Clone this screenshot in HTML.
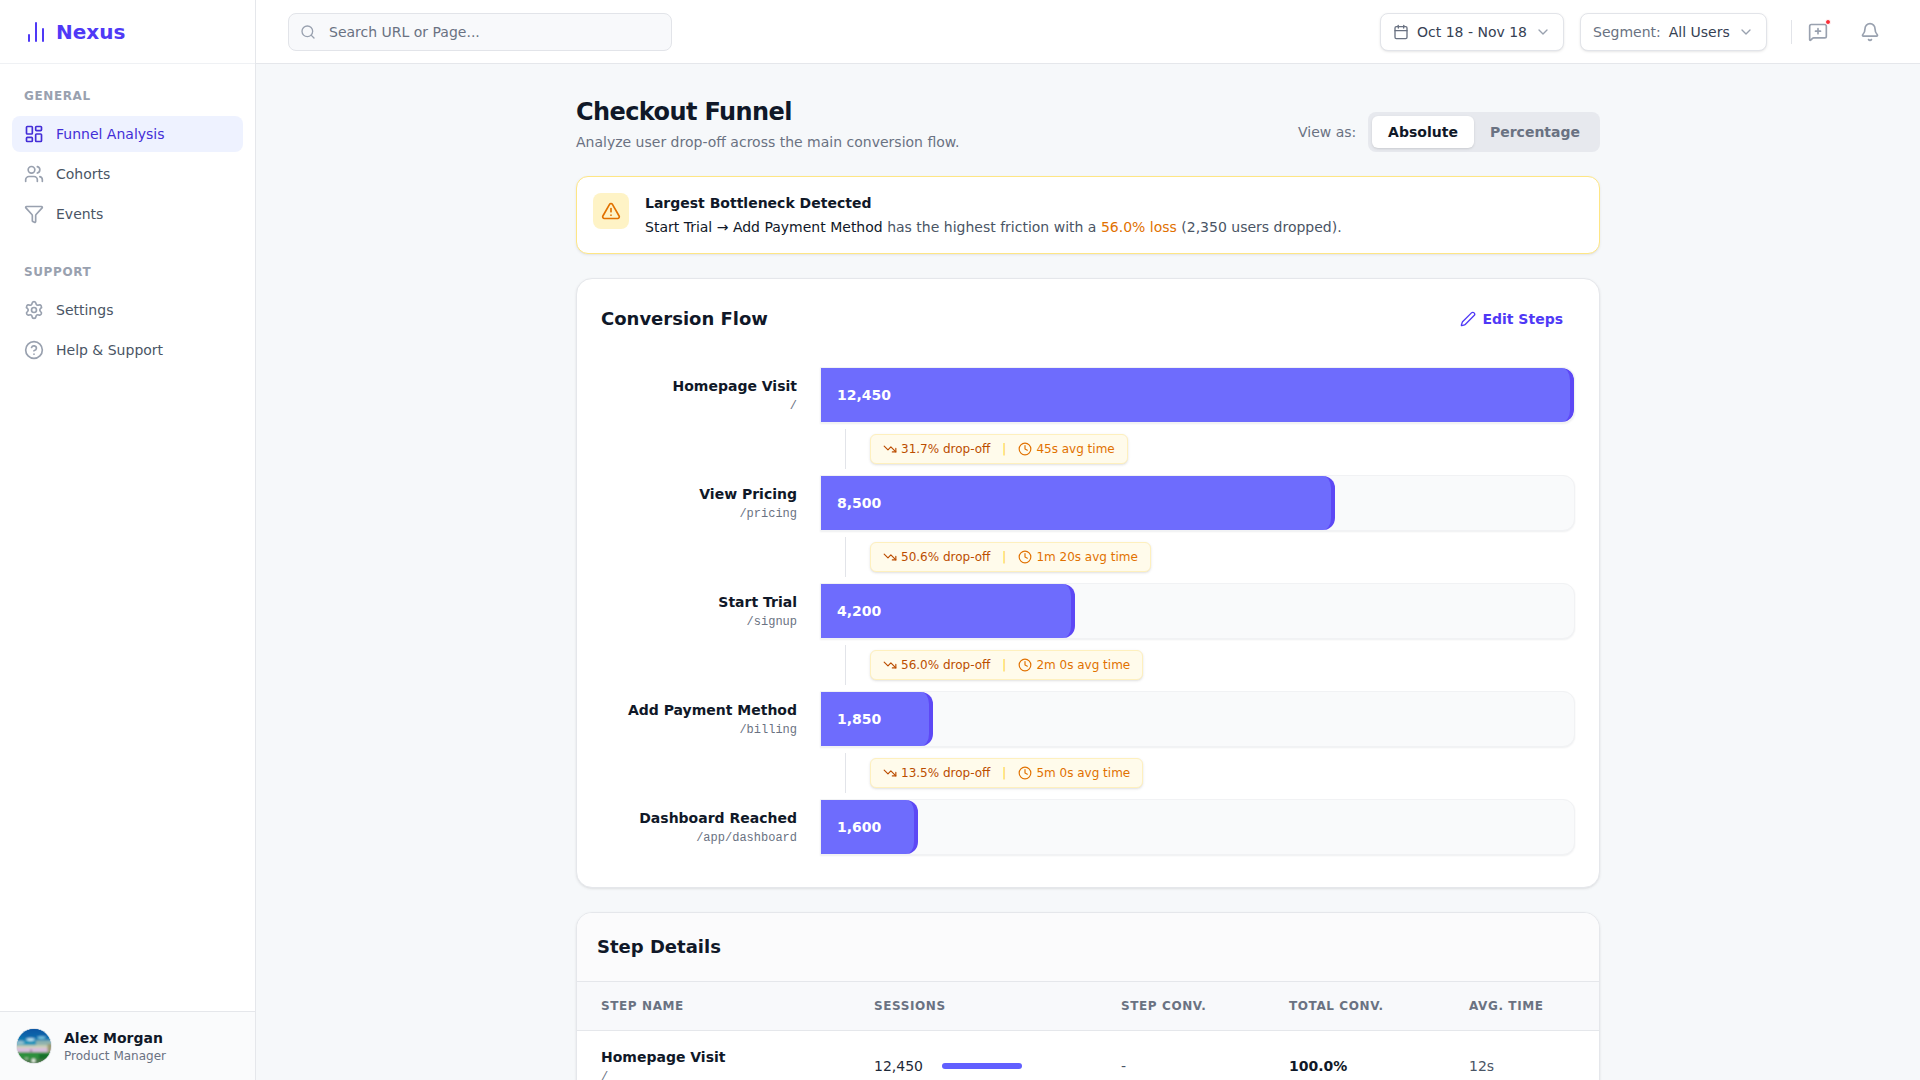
<!DOCTYPE html>
<html lang="en">
<head>
<meta charset="utf-8">
<title>Nexus - Checkout Funnel</title>
<style>
*{box-sizing:border-box;margin:0;padding:0}
html,body{width:1920px;height:1080px;overflow:hidden}
body{font-family:"DejaVu Sans","Liberation Sans",sans-serif;font-size:14px;line-height:20px;color:#111827;background:#f6f8fa;-webkit-font-smoothing:antialiased}
svg{display:block;fill:none;stroke:currentColor;stroke-width:2;stroke-linecap:round;stroke-linejoin:round}
.mono{font-family:"Liberation Mono","DejaVu Sans Mono",monospace}

/* sidebar */
.sidebar{position:absolute;left:0;top:0;width:256px;height:1080px;background:#fff;border-right:1px solid #e5e7eb}
.logo{height:64px;border-bottom:1px solid #eff1f4;display:flex;align-items:center;padding-left:24px;color:#4f39f6}
.logo svg{width:24px;height:24px}
.logo span{font-size:20px;font-weight:700;margin-left:8px;line-height:28px;position:relative;top:0px}
.nav{padding:0 12px}
.nav h4{font-size:12px;line-height:16px;font-weight:700;letter-spacing:.6px;color:#99a1af;text-transform:uppercase;padding-left:12px}
.nav a{display:flex;align-items:center;height:36px;border-radius:8px;padding-left:12px;margin-bottom:4px;color:#4a5565;text-decoration:none}
.nav a svg{width:20px;height:20px;color:#99a1af;margin-right:12px}
.nav a.active{background:#eef2ff;color:#432dd7}
.nav a.active svg{color:#432dd7}
.user{position:absolute;left:0;bottom:0;width:255px;height:69px;border-top:1px solid #e5e7eb;background:#fafbfc;display:flex;align-items:center;padding-left:16px}
.avatar{width:36px;height:36px;border-radius:50%;border:1px solid #e5e7eb;overflow:hidden;position:relative;background:linear-gradient(180deg,#0b62a8 0%,#1680b8 30%,#7fb5c8 42%,#c9b7c0 52%,#d8b6d0 60%,#7fae7a 68%,#2f8f3a 78%,#4a7f4a 90%,#9bb79b 100%)}
.user .info{margin-left:12px}
.user .name{font-weight:700;font-size:14px;line-height:20px;color:#101828}
.user .role{font-size:12px;line-height:16px;color:#6a7282}

/* topbar */
.topbar{position:absolute;left:256px;top:0;width:1664px;height:64px;background:#fff;border-bottom:1px solid #e5e7eb}
.search{position:absolute;left:32px;top:13px;width:384px;height:38px;border:1px solid #e2e4e9;border-radius:8px;background:#f8f9fb;display:flex;align-items:center;padding-left:11px;color:#6a7282;font-size:14px}
.search svg{width:16px;height:16px;color:#99a1af;margin-right:13px}
.tbtn{position:absolute;top:13px;height:38px;border:1px solid #e2e4e9;border-radius:8px;background:#fff;box-shadow:0 1px 3px rgba(0,0,0,.08),0 1px 2px -1px rgba(0,0,0,.08);display:flex;align-items:center;font-size:14px;color:#364153;white-space:nowrap}
.tbtn svg{width:16px;height:16px;color:#6a7282}
.tdiv{position:absolute;left:1535px;top:20px;width:1px;height:24px;background:#e2e4e9}
.ticon{position:absolute;top:22px;width:20px;height:20px;color:#99a1af}
.ticon svg{width:20px;height:20px}
.dot{position:absolute;width:6px;height:6px;border-radius:50%;background:#fb2c36;border:1px solid #fff}

/* main */
.main{position:absolute;left:576px;top:64px;width:1024px}
.ph{position:absolute;left:0;top:0;width:1024px;height:112px}
.ph h1{position:absolute;left:0;top:32px;font-size:24px;line-height:32px;font-weight:700;color:#101828;letter-spacing:-.6px}
.ph p{position:absolute;left:0;top:68px;font-size:14px;line-height:20px;color:#6a7282}
.viewas{position:absolute;left:722px;top:58px;font-size:14px;line-height:20px;color:#6a7282}
.toggle{position:absolute;left:792px;top:48px;width:232px;height:40px;border-radius:8px;background:#e7e9ee;padding:4px;display:flex;font-weight:700;font-size:14px}
.toggle div{height:32px;line-height:32px;text-align:center;border-radius:6px;color:#6a7282}
.toggle .on{width:102px;background:#fff;color:#101828;box-shadow:0 1px 3px rgba(0,0,0,.1),0 1px 2px -1px rgba(0,0,0,.1)}
.toggle .off{width:122px}
.alert{position:absolute;left:0;top:112px;width:1024px;height:78px;background:#fff;border:1px solid #fee685;border-radius:12px;box-shadow:0 1px 3px rgba(0,0,0,.07),0 1px 2px -1px rgba(0,0,0,.07)}
.alert .ib{position:absolute;left:16px;top:16px;width:36px;height:36px;border-radius:8px;background:#fef3c6;color:#e17100;display:flex;align-items:center;justify-content:center}
.alert .ib svg{width:20px;height:20px}
.alert h3{position:absolute;left:68px;top:16px;font-size:14px;line-height:20px;font-weight:700;color:#101828}
.alert p{position:absolute;left:68px;top:40px;font-size:14px;line-height:20px;color:#4a5565;white-space:nowrap}
.alert p b{font-weight:400;color:#101828}
.alert p i{font-style:normal;color:#e17100}
.card{position:absolute;left:0;width:1024px;background:#fff;border:1px solid #e5e7eb;border-radius:16px;box-shadow:0 1px 3px rgba(0,0,0,.08),0 1px 2px -1px rgba(0,0,0,.08)}
.c1{top:214px;height:610px}
.c1 h2{position:absolute;left:24px;top:26px;font-size:18px;line-height:28px;font-weight:700;color:#101828}
.edit{position:absolute;right:36px;top:30px;display:flex;align-items:center;font-size:14px;line-height:20px;font-weight:700;color:#4f39f6}
.edit svg{width:16px;height:16px;margin-right:6px}
.row{position:absolute;left:24px;width:974px;height:54px}
.row .lab{position:absolute;left:0;top:0;width:196px;text-align:right}
.row .lab .n{font-weight:700;font-size:14px;line-height:20px;color:#101828;margin-top:8px;white-space:nowrap}
.row .lab .p{font-size:12px;line-height:16px;color:#6a7282;margin-top:2px}
.track{position:absolute;left:219px;top:-1px;width:755px;height:56px;background:#f9fafb;border:1px solid #f1f2f4;border-radius:0 12px 12px 0;box-shadow:0 1px 2px rgba(16,24,40,.07);overflow:hidden}
.fill{height:54px;background:#6e6cfd;border-right:4px solid #5d48f5;border-radius:0 12px 12px 0;color:#fff;font-weight:700;font-size:14px;line-height:54px;padding-left:16px}
.conn{position:absolute;left:268px;width:1px;height:40px;background:#e2e4e9}
.badge{position:absolute;left:293px;height:30px;border:1px solid #fef0be;background:#fffbeb;border-radius:6px;box-shadow:0 1px 3px rgba(0,0,0,.1),0 1px 2px -1px rgba(0,0,0,.1);display:flex;align-items:center;padding:0 12px;font-size:12px;line-height:16px;white-space:nowrap}
.badge svg{width:14px;height:14px}
.badge .d{color:#bb4d00;display:flex;align-items:center}
.badge .d svg{margin-right:4px}
.badge .s{color:#ffd230;margin:0 12px}
.badge .t{color:#e17100;display:flex;align-items:center}
.badge .t svg{margin-right:4px}
.c2{top:848px;height:400px;overflow:hidden}
.c2 .hd{height:69px;background:#fbfbfc;border-bottom:1px solid #e5e7eb;padding:20px 20px}
.c2 .hd h2{font-size:18px;line-height:28px;font-weight:700;color:#101828}
.c2 .th{height:49px;background:#f8f9fb;border-bottom:1px solid #e5e7eb;position:relative;font-size:12px;line-height:16px;font-weight:700;letter-spacing:.6px;color:#6a7282;text-transform:uppercase}
.c2 .th span{position:absolute;top:16px}
.c2 .tr{position:relative;height:70px}
.c2 .tr>*{position:absolute}
</style>
</head>
<body>

<aside class="sidebar">
  <div class="logo">
    <svg viewBox="0 0 24 24"><path d="M5 21v-6"/><path d="M12 21V3"/><path d="M19 21V9"/></svg>
    <span>Nexus</span>
  </div>
  <nav class="nav">
    <h4 style="margin-top:24px;margin-bottom:12px">General</h4>
    <a class="active"><svg viewBox="0 0 24 24"><rect width="7" height="9" x="3" y="3" rx="1"/><rect width="7" height="5" x="14" y="3" rx="1"/><rect width="7" height="9" x="14" y="12" rx="1"/><rect width="7" height="5" x="3" y="16" rx="1"/></svg>Funnel Analysis</a>
    <a><svg viewBox="0 0 24 24"><path d="M16 21v-2a4 4 0 0 0-4-4H6a4 4 0 0 0-4 4v2"/><circle cx="9" cy="7" r="4"/><path d="M22 21v-2a4 4 0 0 0-3-3.87"/><path d="M16 3.13a4 4 0 0 1 0 7.75"/></svg>Cohorts</a>
    <a><svg viewBox="0 0 24 24"><path d="M10 20a1 1 0 0 0 .553.895l2 1A1 1 0 0 0 14 21v-7a2 2 0 0 1 .517-1.341L21.74 4.67A1 1 0 0 0 21 3H3a1 1 0 0 0-.742 1.67l7.225 7.989A2 2 0 0 1 10 14z"/></svg>Events</a>
    <h4 style="margin-top:32px;margin-bottom:12px">Support</h4>
    <a><svg viewBox="0 0 24 24"><path d="M9.671 4.136a2.34 2.34 0 0 1 4.659 0 2.34 2.34 0 0 0 3.319 1.915 2.34 2.34 0 0 1 2.33 4.033 2.34 2.34 0 0 0 0 3.831 2.34 2.34 0 0 1-2.33 4.033 2.34 2.34 0 0 0-3.319 1.915 2.34 2.34 0 0 1-4.659 0 2.34 2.34 0 0 0-3.32-1.915 2.34 2.34 0 0 1-2.33-4.033 2.34 2.34 0 0 0 0-3.831A2.34 2.34 0 0 1 6.35 6.051a2.34 2.34 0 0 0 3.319-1.915"/><circle cx="12" cy="12" r="3"/></svg>Settings</a>
    <a><svg viewBox="0 0 24 24"><circle cx="12" cy="12" r="10"/><path d="M9.09 9a3 3 0 0 1 5.83 1c0 2-3 3-3 3"/><path d="M12 17h.01"/></svg>Help &amp; Support</a>
  </nav>
  <div class="user">
    <div class="avatar"><svg viewBox="0 0 34 34" width="34" height="34" style="stroke:none;position:absolute;left:0;top:0"><defs><filter id="avb" x="-20%" y="-20%" width="140%" height="140%"><feGaussianBlur stdDeviation="1.1"/></filter><linearGradient id="avs" x1="0" y1="0" x2="0" y2="1"><stop offset="0" stop-color="#0a50a0"/><stop offset="0.45" stop-color="#0b66ab"/><stop offset="0.8" stop-color="#1b95b9"/></linearGradient></defs><g filter="url(#avb)"><rect x="-2" y="-2" width="38" height="20" fill="url(#avs)"/><ellipse cx="13.5" cy="10.6" rx="4.2" ry="1.4" fill="#c9ecf6"/><ellipse cx="24.5" cy="8.6" rx="4" ry="1.1" fill="#8fd8ea"/><rect x="19" y="11.4" width="17" height="6" fill="#8fb2ae"/><ellipse cx="3" cy="13.6" rx="4.5" ry="1.6" fill="#9fc6d0"/><rect x="-2" y="16.2" width="38" height="3" fill="#cdd3b6"/><rect x="-2" y="18.8" width="38" height="4.6" fill="#d9bedd"/><ellipse cx="14" cy="21.6" rx="1" ry="0.9" fill="#6b3f6b"/><rect x="30.5" y="15" width="5" height="8" fill="#9a9a70"/><rect x="-2" y="23.2" width="38" height="8" fill="#2f8f3e"/><rect x="22" y="25" width="14" height="6" fill="#16702c"/><rect x="-2" y="30.4" width="38" height="6" fill="#4b744b"/><ellipse cx="16.5" cy="31.6" rx="2" ry="2.2" fill="#e9f3e6"/><ellipse cx="9.5" cy="29.5" rx="2" ry="1" fill="#a9c7a4"/></g></svg></div>
    <div class="info"><div class="name">Alex Morgan</div><div class="role">Product Manager</div></div>
  </div>
</aside>

<header class="topbar">
  <div class="search"><svg viewBox="0 0 24 24"><circle cx="11" cy="11" r="8"/><path d="m21 21-4.3-4.3"/></svg>Search URL or Page...</div>
  <div class="tbtn" style="left:1124px;width:184px;padding-left:12px">
    <svg viewBox="0 0 24 24"><path d="M8 2v4"/><path d="M16 2v4"/><rect width="18" height="18" x="3" y="4" rx="2"/><path d="M3 10h18"/></svg>
    <span style="margin-left:8px">Oct 18 - Nov 18</span>
    <svg viewBox="0 0 24 24" style="margin-left:8px;color:#99a1af"><path d="m6 9 6 6 6-6"/></svg>
  </div>
  <div class="tbtn" style="left:1324px;width:187px;padding-left:12px">
    <span style="color:#6a7282">Segment:</span>
    <span style="margin-left:8px">All Users</span>
    <svg viewBox="0 0 24 24" style="margin-left:8px;color:#99a1af"><path d="m6 9 6 6 6-6"/></svg>
  </div>
  <div class="tdiv"></div>
  <div class="ticon" style="left:1552px"><svg viewBox="0 0 24 24"><path d="M22 17a2 2 0 0 1-2 2H6.828a2 2 0 0 0-1.414.586l-2.202 2.202A.71.71 0 0 1 2 21.286V5a2 2 0 0 1 2-2h16a2 2 0 0 1 2 2z"/><path d="M12 8v6"/><path d="M9 11h6"/></svg></div>
  <div class="dot" style="left:1569px;top:19px"></div>
  <div class="ticon" style="left:1604px"><svg viewBox="0 0 24 24"><path d="M10.268 21a2 2 0 0 0 3.464 0"/><path d="M3.262 15.326A1 1 0 0 0 4 17h16a1 1 0 0 0 .74-1.673C19.41 13.956 18 12.499 18 8A6 6 0 0 0 6 8c0 4.499-1.411 5.956-2.738 7.326"/></svg></div>
</header>

<main class="main">

  <div class="ph">
    <h1>Checkout Funnel</h1>
    <p>Analyze user drop-off across the main conversion flow.</p>
    <div class="viewas">View as:</div>
    <div class="toggle"><div class="on">Absolute</div><div class="off">Percentage</div></div>
  </div>
  <div class="alert">
    <div class="ib"><svg viewBox="0 0 24 24"><path d="m21.73 18-8-14a2 2 0 0 0-3.48 0l-8 14A2 2 0 0 0 4 21h16a2 2 0 0 0 1.73-3"/><path d="M12 9v4"/><path d="M12 17h.01"/></svg></div>
    <h3>Largest Bottleneck Detected</h3>
    <p><b>Start Trial &rarr; Add Payment Method</b> has the highest friction with a <i>56.0% loss</i> (2,350 users dropped).</p>
  </div>
  <section class="card c1">
    <h2>Conversion Flow</h2>
    <div class="edit"><svg viewBox="0 0 24 24"><path d="M21.174 6.812a1 1 0 0 0-3.986-3.987L3.842 16.174a2 2 0 0 0-.5.83l-1.321 4.352a.5.5 0 0 0 .623.622l4.353-1.32a2 2 0 0 0 .83-.497z"/></svg>Edit Steps</div>
    <div class="row" style="top:89px"><div class="lab"><div class="n">Homepage Visit</div><div class="p mono">/</div></div><div class="track"><div class="fill" style="width:753.0px">12,450</div></div></div>
    <div class="conn" style="top:150px"></div>
    <div class="badge" style="top:155px"><span class="d"><svg viewBox="0 0 24 24"><path d="M16 17h6v-6"/><path d="m22 17-8.500-8.500-5 5L2 7"/></svg>31.7% drop-off</span><span class="s">|</span><span class="t"><svg viewBox="0 0 24 24"><path d="M12 6v6l4 2"/><circle cx="12" cy="12" r="10"/></svg>45s avg time</span></div>
    <div class="row" style="top:197px"><div class="lab"><div class="n">View Pricing</div><div class="p mono">/pricing</div></div><div class="track"><div class="fill" style="width:514.1px">8,500</div></div></div>
    <div class="conn" style="top:258px"></div>
    <div class="badge" style="top:263px"><span class="d"><svg viewBox="0 0 24 24"><path d="M16 17h6v-6"/><path d="m22 17-8.500-8.500-5 5L2 7"/></svg>50.6% drop-off</span><span class="s">|</span><span class="t"><svg viewBox="0 0 24 24"><path d="M12 6v6l4 2"/><circle cx="12" cy="12" r="10"/></svg>1m 20s avg time</span></div>
    <div class="row" style="top:305px"><div class="lab"><div class="n">Start Trial</div><div class="p mono">/signup</div></div><div class="track"><div class="fill" style="width:254.0px">4,200</div></div></div>
    <div class="conn" style="top:366px"></div>
    <div class="badge" style="top:371px"><span class="d"><svg viewBox="0 0 24 24"><path d="M16 17h6v-6"/><path d="m22 17-8.500-8.500-5 5L2 7"/></svg>56.0% drop-off</span><span class="s">|</span><span class="t"><svg viewBox="0 0 24 24"><path d="M12 6v6l4 2"/><circle cx="12" cy="12" r="10"/></svg>2m 0s avg time</span></div>
    <div class="row" style="top:413px"><div class="lab"><div class="n">Add Payment Method</div><div class="p mono">/billing</div></div><div class="track"><div class="fill" style="width:111.9px">1,850</div></div></div>
    <div class="conn" style="top:474px"></div>
    <div class="badge" style="top:479px"><span class="d"><svg viewBox="0 0 24 24"><path d="M16 17h6v-6"/><path d="m22 17-8.500-8.500-5 5L2 7"/></svg>13.5% drop-off</span><span class="s">|</span><span class="t"><svg viewBox="0 0 24 24"><path d="M12 6v6l4 2"/><circle cx="12" cy="12" r="10"/></svg>5m 0s avg time</span></div>
    <div class="row" style="top:521px"><div class="lab"><div class="n">Dashboard Reached</div><div class="p mono">/app/dashboard</div></div><div class="track"><div class="fill" style="width:96.8px">1,600</div></div></div>
  </section>
  <section class="card c2">
    <div class="hd"><h2>Step Details</h2></div>
    <div class="th"><span style="left:24px">Step Name</span><span style="left:297px">Sessions</span><span style="left:544px">Step Conv.</span><span style="left:712px">Total Conv.</span><span style="left:892px">Avg. Time</span></div>
    <div class="tr">
      <div style="left:24px;top:16px;font-weight:700;color:#101828">Homepage Visit</div>
      <div class="mono" style="left:24px;top:38px;font-size:12px;line-height:16px;color:#6a7282">/</div>
      <div style="left:297px;top:25px;color:#1e2939">12,450</div>
      <div style="left:365px;top:32px;width:80px;height:6px;border-radius:3px;background:#615fff"></div>
      <div style="left:544px;top:25px;color:#4a5565">-</div>
      <div style="left:712px;top:25px;font-weight:700;color:#101828">100.0%</div>
      <div style="left:892px;top:25px;color:#4a5565">12s</div>
    </div>
  </section>

</main>

</body>
</html>
